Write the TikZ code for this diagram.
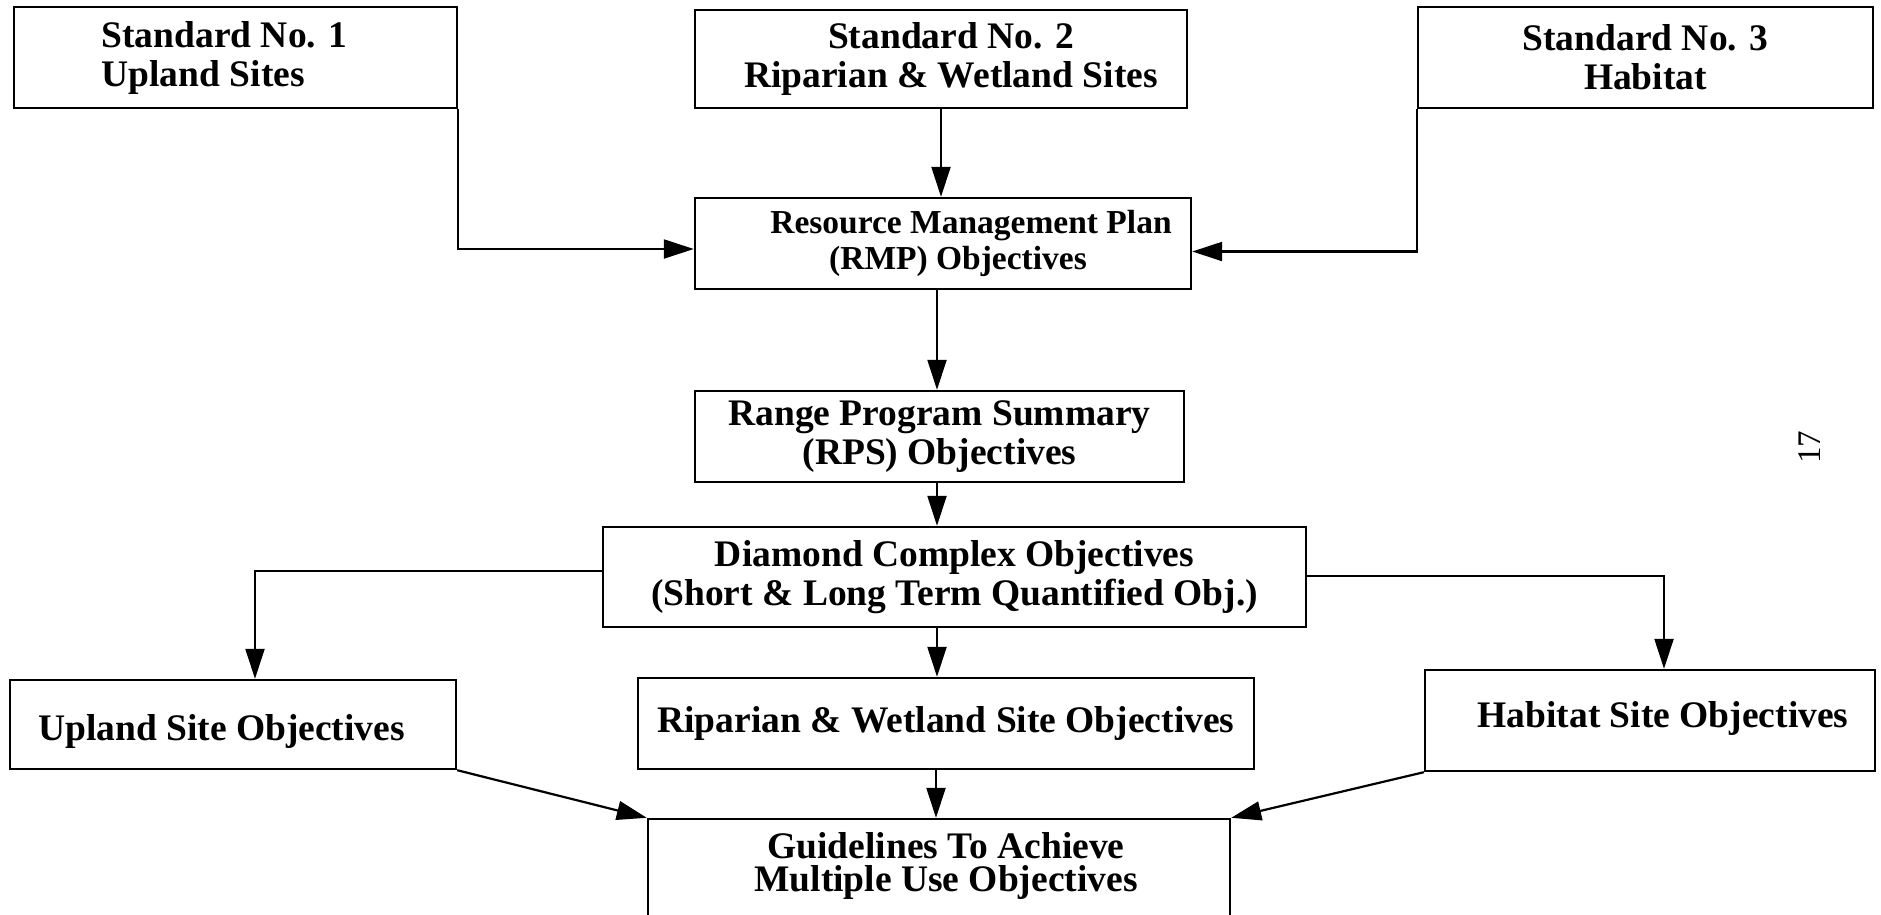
\documentclass[tikz,border=0pt]{standalone}
\usepackage{fontspec}
\setmainfont{Liberation Serif}
\usetikzlibrary{arrows.meta}
\begin{document}
\begin{tikzpicture}[x=1pt,y=-1pt,
  box/.style={draw, line width=2.4pt, inner sep=0pt, align=center,
    font=\bfseries\fontsize{37.5}{39}\selectfont},
  txt/.style={inner sep=0pt, align=center, font=\bfseries\fontsize{37.5}{39}\selectfont},
  conn/.style={line width=2.2pt, -{Triangle[length=30pt,width=19pt]}}]
\useasboundingbox[fill=white] (0,0) rectangle (1881,914);

% top row
\node[box, align=left, minimum width=443pt, minimum height=101pt] (s1) at (235.5,57.5)
  {Standard No. 1\hspace*{22pt}\\Upland Sites};
\node[box, minimum width=492pt, minimum height=98pt] (s2) at (941,59)
  {\hspace*{20pt}Standard No. 2\\\hspace*{20pt}Riparian \& Wetland Sites};
\node[box, minimum width=455pt, minimum height=101pt] (s3) at (1645.5,57.5)
  {Standard No. 3\\Habitat};

% middle column
\node[box, font=\bfseries\fontsize{33.5}{36}\selectfont, minimum width=496pt, minimum height=91pt] (rmp) at (943,243.5)
  {\hspace*{56pt}Resource Management Plan\\\hspace*{30pt}(RMP) Objectives};
\node[box, minimum width=489pt, minimum height=91pt] (rps) at (939.5,436.5)
  {Range Program Summary\\(RPS) Objectives};
\node[box, minimum width=703pt, minimum height=100pt] (dco) at (954.5,577)
  {Diamond Complex Objectives\\(Short \& Long Term Quantified Obj.)};

% site objectives
\node[box, minimum width=446pt, minimum height=89pt,
  label={[name=upt, txt, xshift=-11.5pt, yshift=-6.8pt]center:Upland Site Objectives}] (up) at (233,724.5) {};
\node[box, minimum width=616pt, minimum height=91pt] (rip) at (946,723.5)
  {Riparian \& Wetland Site Objectives};
\node[box, minimum width=450pt, minimum height=101pt,
  label={[name=habt, txt, xshift=13pt, yshift=2.2pt]center:Habitat Site Objectives}] (hab) at (1650,720.5) {};

% guidelines
\node[box, minimum width=582pt, minimum height=102pt,
  label={[name=gdt, txt, font=\bfseries\fontsize{37.5}{33.5}\selectfont, xshift=7pt, yshift=4pt]center:{Guidelines To Achieve\\Multiple Use Objectives}}] (gd) at (939,870) {};

% page number
\node[rotate=90, inner sep=0pt, font=\fontsize{33}{35}\selectfont] (pg) at (1810,447) {17};

% connectors
\draw[conn] (s1.south east) |- ([yshift=-5.5pt]rmp.west);
\draw[conn] (s2.south) -- (s2.south |- rmp.north);
\draw[conn] (s3.south west) |- ([yshift=-8pt]rmp.east);
\draw[conn] ([xshift=-6pt]rmp.south) -- ([xshift=-6pt]rmp.south |- rps.north);
\draw[conn] ([xshift=-2.5pt]rps.south) -- ([xshift=-2.5pt]rps.south |- dco.north);
\draw[conn] ([yshift=6pt]dco.west) -| ([xshift=22pt]up.north);
\draw[conn] ([yshift=1pt]dco.east) -| ([xshift=14pt]hab.north);
\draw[conn] ([xshift=-17.5pt]dco.south) -- ([xshift=-17.5pt]dco.south |- rip.north);
\draw[conn] ([xshift=-10pt]rip.south) -- ([xshift=-10pt]rip.south |- gd.north);
\draw[conn] (up.south east) -- (gd.north west);
\draw[conn] (hab.south west) -- (gd.north east);
\end{tikzpicture}
\end{document}
